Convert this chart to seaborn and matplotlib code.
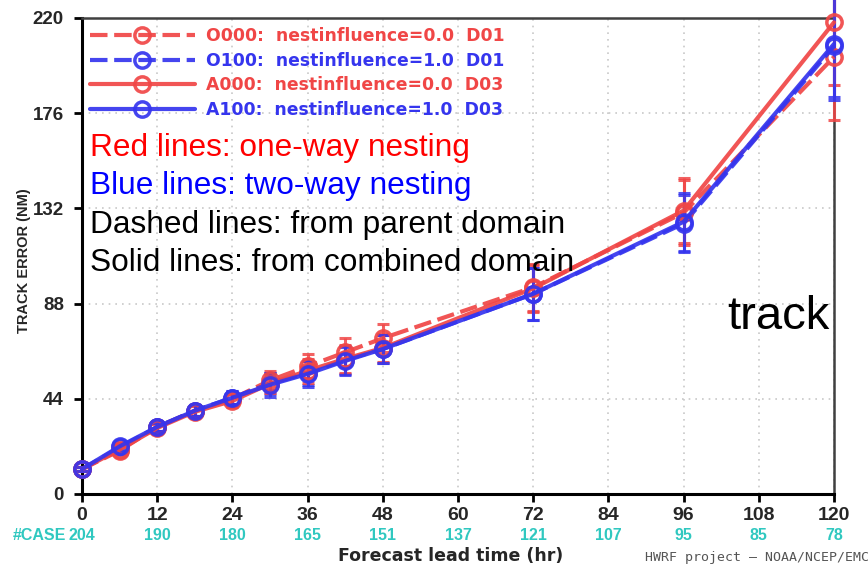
import numpy as np
import pandas as pd
import seaborn as sns
import matplotlib
matplotlib.use("Agg")
import matplotlib.pyplot as plt
import matplotlib.transforms as mtransforms

# ---------------- data ----------------
hours = [0, 6, 12, 18, 24, 30, 36, 42, 48, 72, 96, 120]
case_hours = [0, 12, 24, 36, 48, 60, 72, 84, 96, 108, 120]
case_counts = [204, 190, 180, 165, 151, 137, 121, 107, 95, 85, 78]

o000 = [11.5, 20.0, 31.0, 38.5, 44.0, 52.5, 59.0, 65.5, 72.0, 95.5, 130.0, 202.0]
o100 = [11.5, 21.5, 31.0, 38.5, 44.5, 51.0, 56.0, 62.0, 67.0, 92.5, 125.0, 207.0]
a000 = [11.5, 20.5, 30.5, 38.0, 43.0, 51.0, 57.0, 62.5, 67.5, 95.0, 131.0, 218.0]
a100 = [11.5, 22.0, 31.0, 38.5, 44.5, 50.5, 55.5, 61.5, 67.0, 92.5, 125.8, 208.0]

o000_err = [1.0, 1.5, 2.0, 2.5, 3.0, 4.5, 5.5, 6.5, 6.5, 11.0, 15.0, 29.0]
o100_err = [1.0, 1.5, 2.0, 2.5, 3.0, 5.0, 5.5, 6.5, 6.5, 12.0, 13.0, 25.0]
a000_err = [1.0, 1.5, 2.0, 2.5, 3.0, 4.5, 5.5, 6.5, 6.5, 11.0, 15.0, 29.0]
a100_err = [1.0, 1.5, 2.0, 2.5, 3.0, 5.5, 6.0, 6.5, 6.5, 12.0, 13.5, 24.5]

labels = ["O000:  nestinfluence=0.0  D01",
          "O100:  nestinfluence=1.0  D01",
          "A000:  nestinfluence=0.0  D03",
          "A100:  nestinfluence=1.0  D03"]
yticks = [0, 44, 88, 132, 176, 220]
xticks = list(range(0, 121, 12))

RED = "#f04646"
BLUE = "#3535ee"
CASE_C = "#30c8c0"

series = [(labels[0], o000, o000_err, RED, (0, (4.2, 1.6))),
          (labels[1], o100, o100_err, BLUE, (0, (4.2, 1.6))),
          (labels[2], a000, a000_err, RED, "-"),
          (labels[3], a100, a100_err, BLUE, "-")]

sns.set_theme(style="white")
plt.rcParams["font.family"] = ["Liberation Sans", "DejaVu Sans"]

fig = plt.figure(figsize=(8.68, 5.66), dpi=100)
ax = fig.add_axes([82 / 868, 1 - 494 / 566, (834 - 82) / 868, (494 - 18) / 566])

handles = []
for lab, vals, errs, col, ls in series:
    ax.errorbar(hours, vals, yerr=errs, fmt="none", ecolor=col, elinewidth=2.2,
                capsize=4, capthick=2.2, alpha=0.85, clip_on=False, zorder=3)
    d = pd.DataFrame({"hour": hours, "err": vals})
    sns.lineplot(data=d, x="hour", y="err", color=col, linestyle=ls, linewidth=3,
                 marker="o", markersize=11, markerfacecolor="none",
                 markeredgecolor=col, markeredgewidth=2.5, ax=ax, zorder=4,
                 label=lab, clip_on=False)
    ln = ax.lines[-1]
    ln.set_alpha(0.92)
    handles.append(ln)

# legend
leg = ax.legend(handles=handles, labels=labels, loc="upper left",
                bbox_to_anchor=(-0.006, 1.006), frameon=False,
                handlelength=6.1, handletextpad=0.65, labelspacing=0.38,
                borderaxespad=0.3,
                prop={"size": 12.4, "weight": "bold", "family": "DejaVu Sans"})
for txt, col in zip(leg.get_texts(), [RED, BLUE, RED, BLUE]):
    txt.set_color(col)

ax.set_xlim(0, 120)
ax.set_ylim(0, 220)
ax.set_xticks(xticks)
ax.set_yticks(yticks)
ax.set_xticklabels([str(t) for t in xticks], fontsize=14, fontweight="bold")
ax.set_yticklabels([str(t) for t in yticks], fontsize=13.5, fontweight="bold")
ax.tick_params(axis="y", direction="out", length=6, width=2, color="black",
               pad=7, left=True)
ax.tick_params(axis="x", direction="out", length=6, width=2, color="black",
               pad=3, bottom=True)
ax.grid(True, linestyle=(0, (1, 3)), color="#c8c8c8", linewidth=1.2)
for side in ["left", "bottom"]:
    ax.spines[side].set_color("black")
    ax.spines[side].set_linewidth(2.2)
for side in ["top", "right"]:
    ax.spines[side].set_color("#404040")
    ax.spines[side].set_linewidth(1.8)

ax.set_xlabel("Forecast lead time (hr)", fontsize=12.5, fontweight="bold",
              family="DejaVu Sans")
ax.xaxis.set_label_coords(0.49, -0.112)
ax.set_ylabel("TRACK ERROR (NM)", fontsize=10.5, fontweight="bold")
ax.yaxis.set_label_coords(-0.068, 0.49)

# case counts
trans = mtransforms.blended_transform_factory(ax.transData, ax.transAxes)
for h, c in zip(case_hours, case_counts):
    ax.text(h, -0.087, str(c), transform=trans, ha="center", va="center",
            fontsize=11.5, fontweight="bold", color=CASE_C)
ax.text(-2.6, -0.087, "#CASE", transform=trans, ha="right", va="center",
        fontsize=11.5, fontweight="bold", color=CASE_C)

# annotations
ann = [("Red lines: one-way nesting", "#ff0000", 148),
       ("Blue lines: two-way nesting", "#0000ff", 186),
       ("Dashed lines: from parent domain", "black", 225),
       ("Solid lines: from combined domain", "black", 263)]
for t, c, y in ann:
    fig.text(90 / 868, 1 - y / 566, t, color=c, fontsize=22.8, va="center", ha="left")
fig.text(727 / 868, 1 - 317 / 566, "track", color="black", fontsize=34,
         va="center", ha="left")
fig.text(645 / 868, 1 - 558 / 566, "HWRF project \u2013 NOAA/NCEP/EMC", color="#555555",
         fontsize=9.5, va="center", ha="left", family=["DejaVu Sans Mono", "DejaVu Sans"])

fig.savefig("out.png", dpi=100)
